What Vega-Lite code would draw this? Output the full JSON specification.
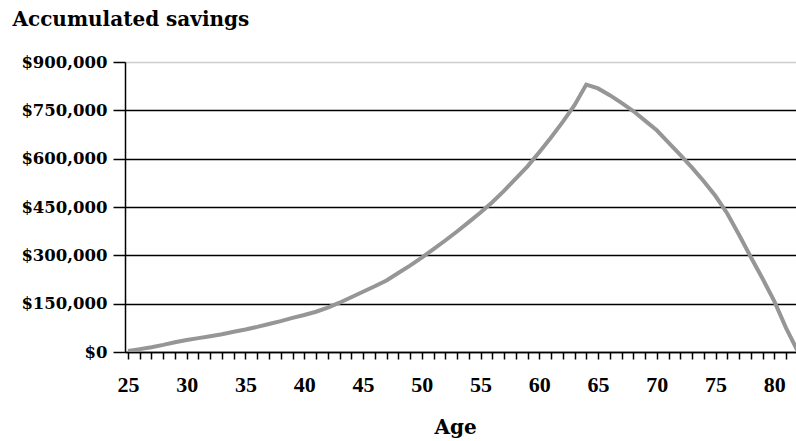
{
  "$schema": "https://vega.github.io/schema/vega-lite/v6.json",
  "width": 671,
  "height": 290,
  "autosize": {"type": "none"},
  "padding": {"left": 125, "top": 62, "right": 0, "bottom": 89},
  "background": "white",
  "config": {"view": {"stroke": null}},
  "data": {
    "values": [
      {"age": 25, "savings": 3000},
      {"age": 26, "savings": 9000},
      {"age": 27, "savings": 15000},
      {"age": 28, "savings": 22000},
      {"age": 29, "savings": 30000},
      {"age": 30, "savings": 37000},
      {"age": 31, "savings": 43000},
      {"age": 32, "savings": 49000},
      {"age": 33, "savings": 55000},
      {"age": 34, "savings": 63000},
      {"age": 35, "savings": 70000},
      {"age": 36, "savings": 78000},
      {"age": 37, "savings": 87000},
      {"age": 38, "savings": 96000},
      {"age": 39, "savings": 106000},
      {"age": 40, "savings": 115000},
      {"age": 41, "savings": 125000},
      {"age": 42, "savings": 138000},
      {"age": 43, "savings": 153000},
      {"age": 44, "savings": 170000},
      {"age": 45, "savings": 187000},
      {"age": 46, "savings": 204000},
      {"age": 47, "savings": 222000},
      {"age": 48, "savings": 245000},
      {"age": 49, "savings": 268000},
      {"age": 50, "savings": 293000},
      {"age": 51, "savings": 319000},
      {"age": 52, "savings": 346000},
      {"age": 53, "savings": 374000},
      {"age": 54, "savings": 403000},
      {"age": 55, "savings": 433000},
      {"age": 56, "savings": 465000},
      {"age": 57, "savings": 500000},
      {"age": 58, "savings": 538000},
      {"age": 59, "savings": 576000},
      {"age": 60, "savings": 620000},
      {"age": 61, "savings": 666000},
      {"age": 62, "savings": 714000},
      {"age": 63, "savings": 766000},
      {"age": 64, "savings": 830000},
      {"age": 65, "savings": 818000},
      {"age": 66, "savings": 797000},
      {"age": 67, "savings": 773000},
      {"age": 68, "savings": 748000},
      {"age": 69, "savings": 718000},
      {"age": 70, "savings": 688000},
      {"age": 71, "savings": 650000},
      {"age": 72, "savings": 612000},
      {"age": 73, "savings": 572000},
      {"age": 74, "savings": 530000},
      {"age": 75, "savings": 484000},
      {"age": 76, "savings": 430000},
      {"age": 77, "savings": 364000},
      {"age": 78, "savings": 295000},
      {"age": 79, "savings": 228000},
      {"age": 80, "savings": 158000},
      {"age": 81, "savings": 75000},
      {"age": 82, "savings": 2000}
    ]
  },
  "mark": {"type": "line", "color": "#969696", "strokeWidth": 4, "clip": true},
  "encoding": {
    "x": {
      "field": "age",
      "type": "quantitative",
      "scale": {"domain": [24.745, 81.85], "nice": false, "zero": false},
      "axis": {
        "title": "Age",
        "values": [25,26,27,28,29,30,31,32,33,34,35,36,37,38,39,40,41,42,43,44,45,46,47,48,49,50,51,52,53,54,55,56,57,58,59,60,61,62,63,64,65,66,67,68,69,70,71,72,73,74,75,76,77,78,79,80,81],
        "labelExpr": "datum.value % 5 === 0 ? datum.label : ''",
        "grid": false,
        "domainColor": "#000",
        "domainWidth": 1.5,
        "tickColor": "#000",
        "tickWidth": 1.5,
        "tickSize": 7,
        "labelFont": "Liberation Serif",
        "labelFontSize": 22,
        "labelFontWeight": "bold",
        "labelColor": "#000",
        "labelPadding": 15,
        "labelFlush": false,
        "labelOverlap": false,
        "titleFont": "DejaVu Serif",
        "titleFontSize": 20,
        "titleFontWeight": "bold",
        "titleColor": "#000",
        "titleBaseline": "alphabetic",
        "titleY": 81,
        "titleX": 330
      }
    },
    "y": {
      "field": "savings",
      "type": "quantitative",
      "scale": {"domain": [0, 900000], "nice": false},
      "axis": {
        "title": "Accumulated savings",
        "titleAngle": 0,
        "titleAlign": "left",
        "titleBaseline": "alphabetic",
        "titleX": -113,
        "titleY": -37,
        "titleFont": "DejaVu Serif",
        "titleFontSize": 20,
        "titleFontWeight": "bold",
        "titleColor": "#000",
        "values": [0, 150000, 300000, 450000, 600000, 750000, 900000],
        "format": "$,.0f",
        "grid": true,
        "gridColor": {"condition": {"test": "datum.value === 900000", "value": "#9a9a9a"}, "value": "#000"},
        "gridDash": {"condition": {"test": "datum.value === 900000", "value": [1, 1]}, "value": []},
        "gridWidth": 1.5,
        "domainColor": "#000",
        "domainWidth": 1.5,
        "tickColor": "#000",
        "tickWidth": 1.5,
        "tickSize": 12,
        "labelFont": "DejaVu Serif",
        "labelFontSize": 16.5,
        "labelFontWeight": "bold",
        "labelColor": "#000",
        "labelPadding": 6,
        "labelFlush": false,
        "labelOverlap": false
      }
    }
  }
}
